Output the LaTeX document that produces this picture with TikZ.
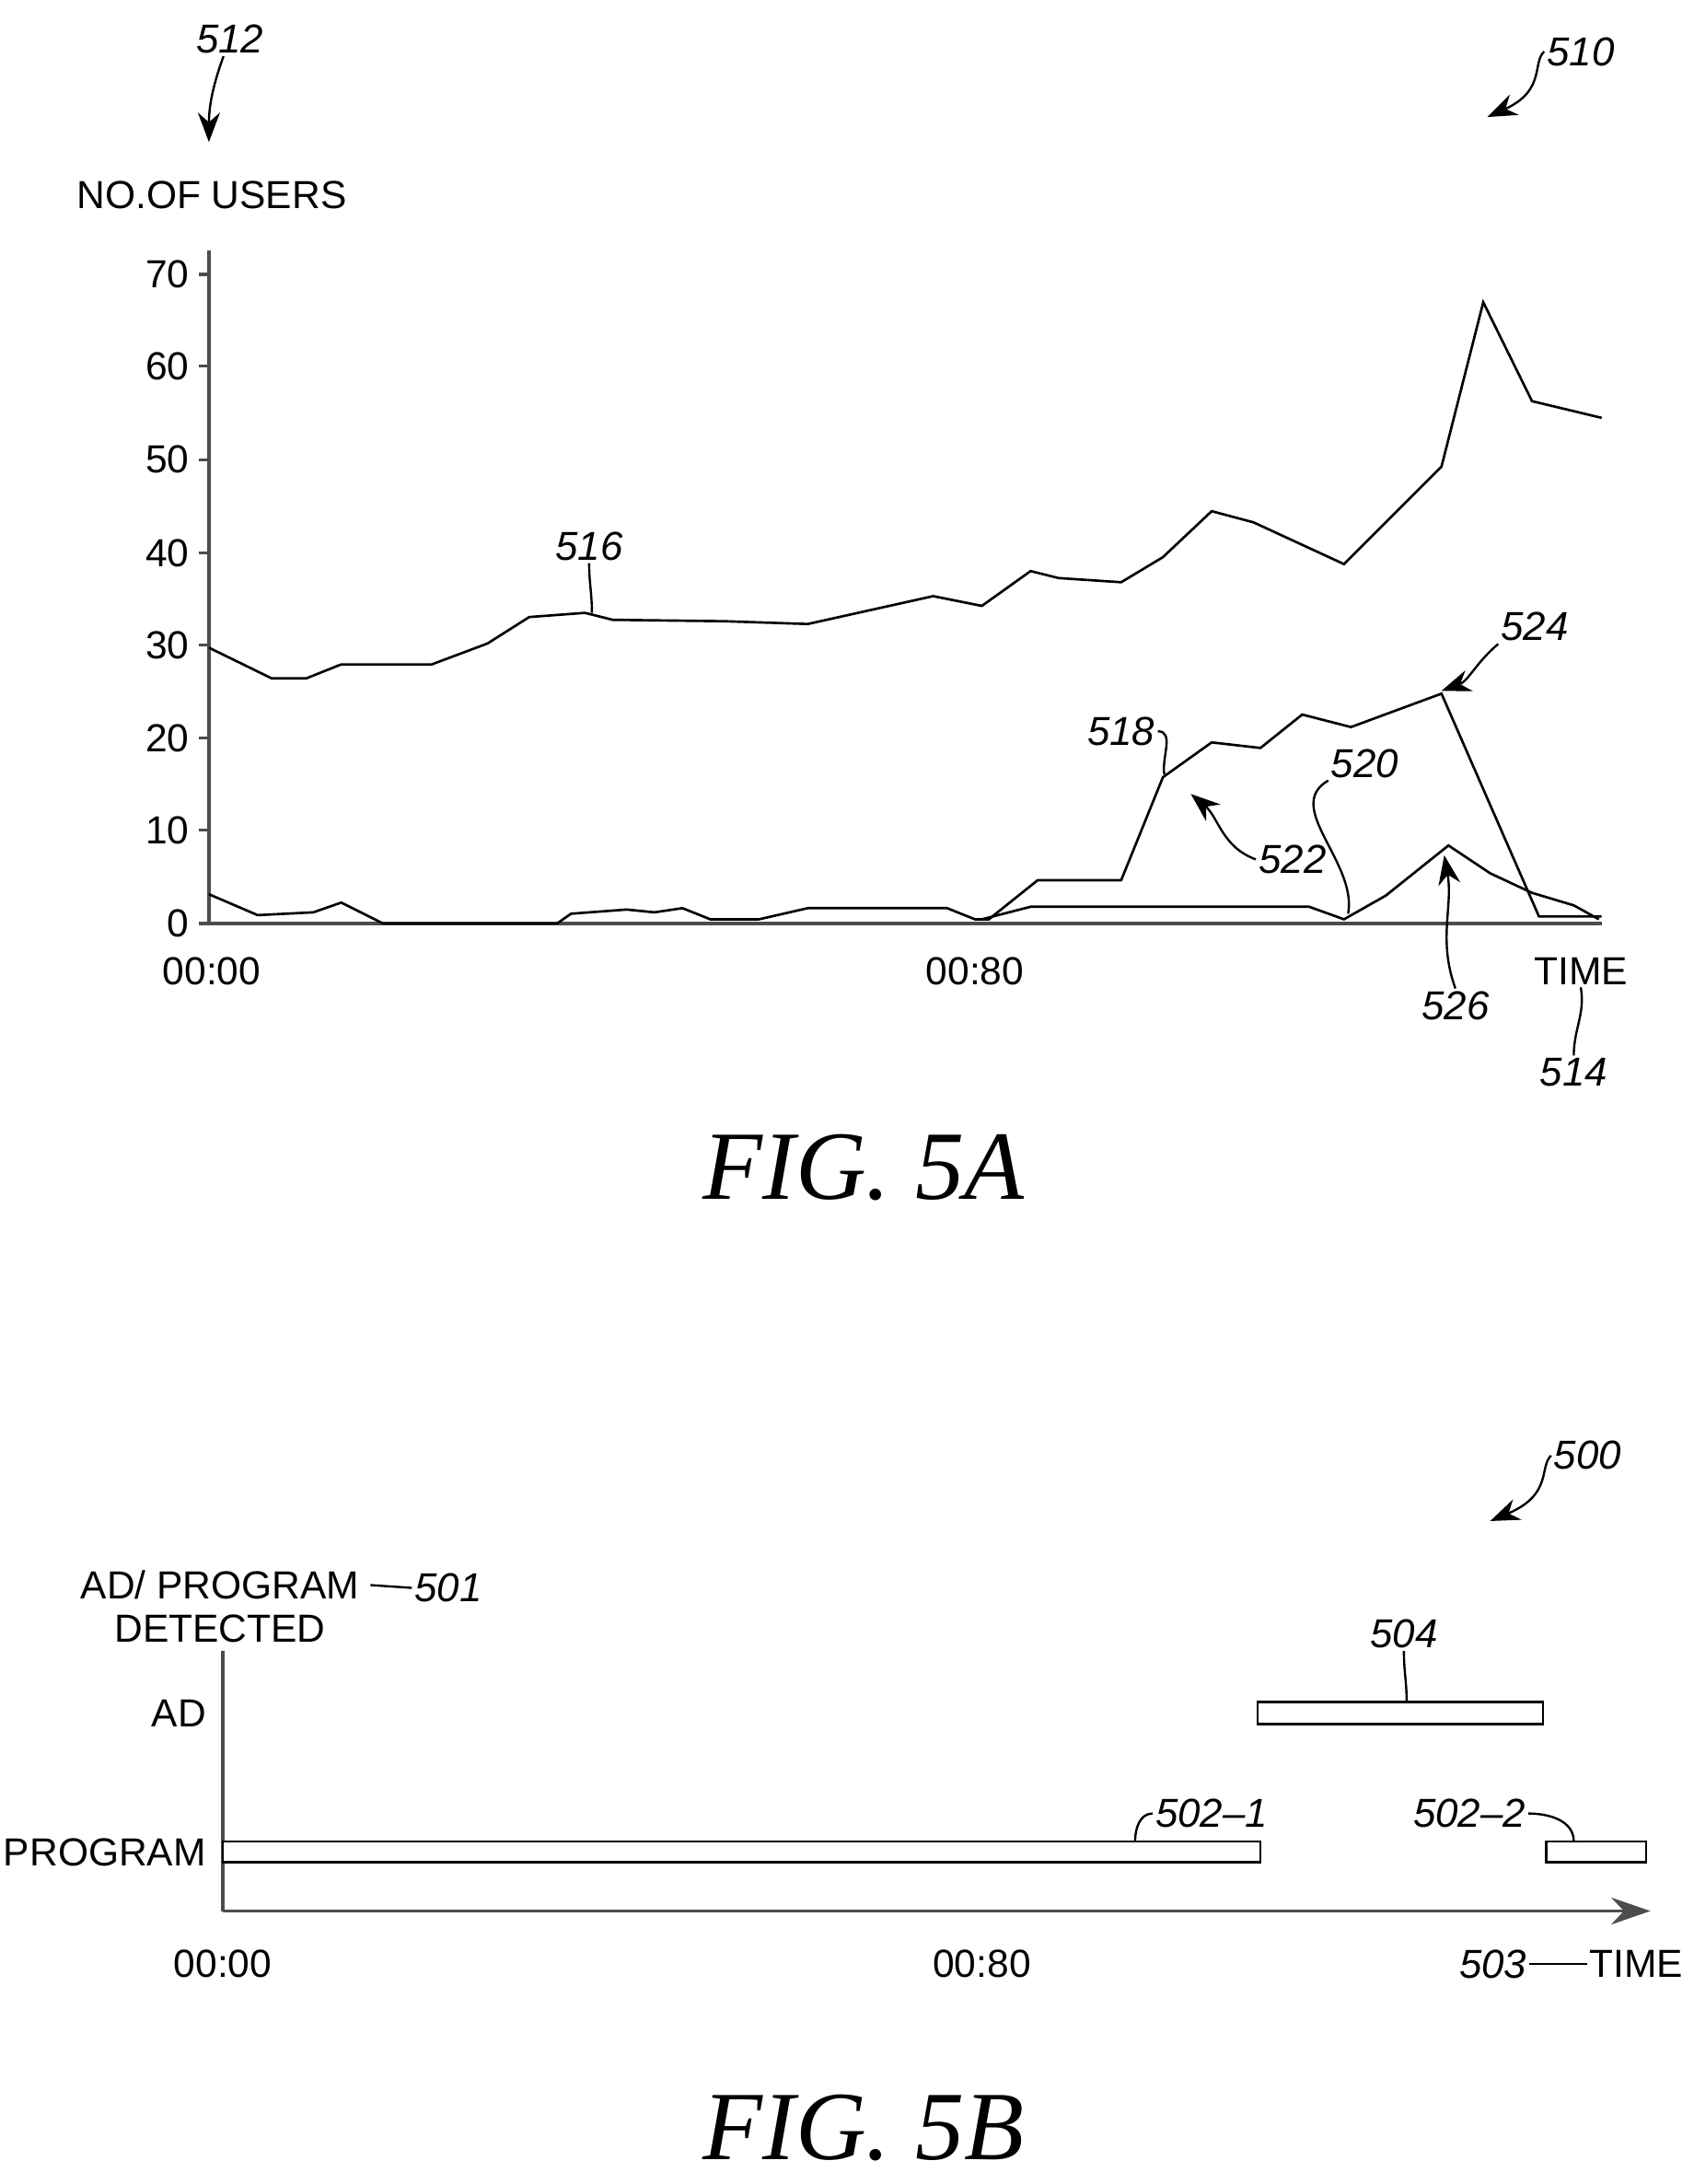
\documentclass[tikz,border=0pt]{standalone}
\usepackage{fontspec}
\setmainfont{Liberation Sans}
\newfontfamily\capfont{Liberation Serif}
\usetikzlibrary{positioning,arrows.meta}

\begin{document}
\begin{tikzpicture}
		[x=0.02cm, y=-0.02cm,
		txt/.style={font=\fontsize{16}{18}\selectfont, inner sep=1pt},
		refnum/.style={font=\fontsize{16.5}{18}\selectfont\itshape, inner sep=1pt},
		figcap/.style={font=\capfont\itshape\fontsize{40}{44}\selectfont},
		axis/.style={draw=black!70, line width=1.2pt},
		curve/.style={black, line width=1pt},
		leader/.style={black, line width=0.9pt},
		pointer/.style={leader, -{Stealth[length=12pt, width=9pt]}},
		bar/.style={draw, line width=1pt, fill=white}]
		\useasboundingbox (0,0) rectangle (1216,1568);

		% FIG. 5A
		\node[refnum] (n512) at (165,28) {512};
		\node[txt] (ylab) at (152,140) {NO.OF USERS};
		\coordinate (p512) at (150,102);
		\draw[pointer] (n512) to[out=-110, in=90] (p512);
		\node[refnum] (n510) at (1135,37) {510};
		\coordinate (p510) at (1068,84);
		\draw[pointer] (n510.west) .. controls (1100,45) and (1110,65) .. (p510);

		\coordinate (origA) at (150,663);
		\coordinate (topA) at (150,180);
		\coordinate (endA) at (1150,663);
		\draw[axis] (topA) -- (origA) -- (endA);
		\foreach \v/\yy in {70/197,60/263,50/330,40/397,30/463,20/530,10/596,0/663} {
			\draw[axis] (143,\yy) -- (150,\yy);
			\node[txt, anchor=east] (yt\v) at (138,\yy) {\v};
		}
		\node[txt] (t0A) at (152,697) {00:00};
		\node[txt] (t80A) at (700,697) {00:80};
		\node[txt] (timeA) at (1135,697) {TIME};
		\node[refnum] (n514) at (1130,770) {514};
		\draw[leader] (n514.north) to[out=90, in=-80] (timeA.south);

		\draw[curve] (150,465) -- (195,487) -- (220,487) -- (245,477) -- (310,477) -- (350,462) -- (380,443) -- (420,440) -- (440,445) -- (520,446) -- (580,448) -- (625,438) -- (670,428) -- (705,435) -- (740,410) -- (760,415) -- (805,418) -- (835,400) -- (870,367) -- (900,375) -- (965,405) -- (1035,335) -- (1065,217) -- (1100,288) -- (1150,300);
		\draw[curve] (150,642) -- (185,657) -- (225,655) -- (245,648) -- (275,663) -- (400,663) -- (410,656) -- (450,653) -- (470,655) -- (490,652) -- (510,660) -- (545,660) -- (580,652) -- (680,652) -- (700,660) -- (710,660) -- (745,632) -- (805,632) -- (835,558) -- (870,533) -- (905,537) -- (935,513) -- (970,522) -- (1035,498) -- (1105,658) -- (1150,658);
		\draw[curve] (705,660) -- (740,651) -- (940,651) -- (965,660) -- (995,643) -- (1040,607) -- (1070,627) -- (1100,641) -- (1130,650) -- (1148,660);

		\node[refnum] (n516) at (423,392) {516};
		\coordinate (c516) at (425,440);
		\draw[leader] (n516.south) to[out=-90, in=90] (c516);
		\node[refnum] (n518) at (805,525) {518};
		\coordinate (c518) at (836,556);
		\draw[leader] (n518.east) to[out=0, in=100] (c518);
		\node[refnum] (n520) at (980,548) {520};
		\coordinate (c520) at (968,656);
		\draw[leader] (n520.south west) to[out=-150, in=80] (c520);
		\node[refnum] (n522) at (928,617) {522};
		\coordinate (c522) at (855,570);
		\draw[pointer] (n522.west) to[out=160, in=-40] (c522);
		\node[refnum] (n524) at (1102,450) {524};
		\coordinate (c524) at (1035,496);
		\draw[pointer] (n524.south west) to[out=-140, in=20] (c524);
		\node[refnum] (n526) at (1045,722) {526};
		\coordinate (c526) at (1037,614);
		\draw[pointer] (n526.north) to[out=110, in=-80] (c526);

		\node[figcap] (figA) at (620,838) {FIG.\ 5A};

		% FIG. 5B
		\node[refnum] (n500) at (1140,1045) {500};
		\coordinate (p500) at (1070,1092);
		\draw[pointer] (n500.west) .. controls (1105,1053) and (1115,1073) .. (p500);

		\node[txt] (ylabB) at (158,1138) {AD/ PROGRAM};
		\node[txt, below=4pt of ylabB] (detB) {DETECTED};
		\node[refnum] (n501) at (322,1140) {501};
		\coordinate (l501) at (266,1138);
		\draw[leader] (l501) -- (n501.west);
		\node[txt, anchor=east] (adlab) at (150,1230) {AD};
		\node[txt, anchor=east] (prglab) at (150,1330) {PROGRAM};

		\coordinate (origB) at (160,1372);
		\coordinate (topB) at (160,1185);
		\coordinate (endB) at (1185,1372);
		\draw[axis] (topB) -- (origB);
		\draw[axis, -{Stealth[length=16pt, width=11pt]}] (origB) -- (endB);

		\draw[bar] (903,1222) rectangle (1108,1238);
		\draw[bar] (160,1322) rectangle (905,1337);
		\draw[bar] (1110,1322) rectangle (1182,1337);

		\node[refnum] (n504) at (1008,1173) {504};
		\coordinate (c504) at (1010,1222);
		\draw[leader] (n504.south) to[out=-90, in=90] (c504);
		\node[refnum] (n5021) at (870,1302) {502--1};
		\coordinate (c5021) at (815,1322);
		\draw[leader] (n5021.west) to[out=180, in=90] (c5021);
		\node[refnum] (n5022) at (1055,1302) {502--2};
		\coordinate (c5022) at (1130,1322);
		\draw[leader] (n5022.east) to[out=0, in=90] (c5022);

		\node[txt] (t0B) at (160,1410) {00:00};
		\node[txt] (t80B) at (705,1410) {00:80};
		\node[refnum] (n503) at (1072,1410) {503};
		\node[txt] (timeB) at (1175,1410) {TIME};
		\draw[leader] (n503.east) -- (timeB.west);

		\node[figcap] (figB) at (620,1528) {FIG.\ 5B};
	\end{tikzpicture}
\end{document}
